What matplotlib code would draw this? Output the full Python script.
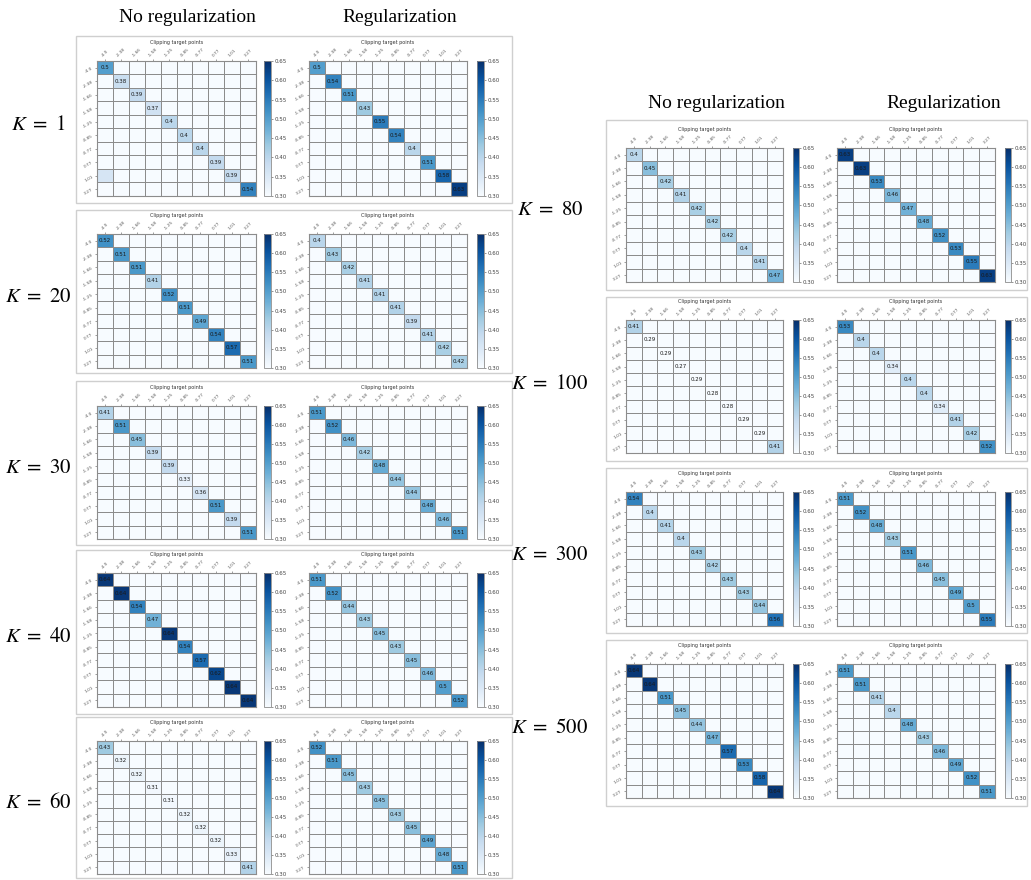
import numpy as np
import matplotlib
matplotlib.use("Agg")
import matplotlib.pyplot as plt
from matplotlib.patches import Rectangle

plt.rcParams['font.family'] = ['DejaVu Sans']
plt.rcParams['mathtext.fontset'] = 'stix'

# clipping target points (tick labels)
points = ["-4.0", "-2.38", "-1.66", "-1.58", "-1.25", "-0.85", "-0.77", "0.77", "1.01", "3.27"]

# diagonal values, no regularization / regularization
k1_noreg = [0.5, 0.38, 0.39, 0.37, 0.4, 0.4, 0.4, 0.39, 0.39, 0.54]
k1_reg = [0.5, 0.54, 0.51, 0.43, 0.55, 0.54, 0.4, 0.51, 0.58, 0.63]
k20_noreg = [0.52, 0.51, 0.51, 0.41, 0.52, 0.51, 0.49, 0.54, 0.57, 0.51]
k20_reg = [0.4, 0.43, 0.42, 0.41, 0.41, 0.41, 0.39, 0.41, 0.42, 0.42]
k30_noreg = [0.41, 0.51, 0.45, 0.39, 0.39, 0.33, 0.36, 0.51, 0.39, 0.51]
k30_reg = [0.51, 0.52, 0.46, 0.42, 0.48, 0.44, 0.44, 0.48, 0.46, 0.51]
k40_noreg = [0.64, 0.64, 0.54, 0.47, 0.64, 0.54, 0.57, 0.62, 0.64, 0.64]
k40_reg = [0.51, 0.52, 0.44, 0.43, 0.45, 0.43, 0.45, 0.46, 0.5, 0.52]
k60_noreg = [0.43, 0.32, 0.32, 0.31, 0.31, 0.32, 0.32, 0.32, 0.33, 0.41]
k60_reg = [0.52, 0.51, 0.45, 0.43, 0.45, 0.43, 0.45, 0.49, 0.48, 0.51]
k80_noreg = [0.4, 0.45, 0.42, 0.41, 0.42, 0.42, 0.42, 0.4, 0.41, 0.47]
k80_reg = [0.63, 0.63, 0.53, 0.46, 0.47, 0.48, 0.52, 0.53, 0.55, 0.63]
k100_noreg = [0.41, 0.29, 0.29, 0.27, 0.29, 0.28, 0.28, 0.29, 0.29, 0.41]
k100_reg = [0.53, 0.4, 0.4, 0.34, 0.4, 0.4, 0.34, 0.41, 0.42, 0.52]
k300_noreg = [0.54, 0.4, 0.41, 0.4, 0.43, 0.42, 0.43, 0.43, 0.44, 0.56]
k300_reg = [0.51, 0.52, 0.48, 0.43, 0.51, 0.46, 0.45, 0.49, 0.5, 0.55]
k500_noreg = [0.64, 0.64, 0.51, 0.45, 0.44, 0.47, 0.57, 0.53, 0.58, 0.64]
k500_reg = [0.51, 0.51, 0.41, 0.4, 0.48, 0.43, 0.46, 0.49, 0.52, 0.51]

# the one shaded off-diagonal cell (row, col, value) in K=1, no regularization
k1_noreg_extra = [(8, 0, 0.36)]

k_labels = [1, 20, 30, 40, 60, 80, 100, 300, 500]
panel_data = [
    (k1_noreg, k1_reg), (k20_noreg, k20_reg), (k30_noreg, k30_reg),
    (k40_noreg, k40_reg), (k60_noreg, k60_reg), (k80_noreg, k80_reg),
    (k100_noreg, k100_reg), (k300_noreg, k300_reg), (k500_noreg, k500_reg),
]
extras = {(0, 0): k1_noreg_extra}

W, H = 1031, 880
fig = plt.figure(figsize=(W / 100, H / 100), dpi=100)


def px_axes(x0, y0, x1, y1):
    return fig.add_axes([x0 / W, 1 - y1 / H, (x1 - x0) / W, (y1 - y0) / H])


def px_box(x0, y0, x1, y1):
    fig.patches.append(Rectangle((x0 / W, 1 - y1 / H), (x1 - x0) / W, (y1 - y0) / H,
                                 transform=fig.transFigure, fill=False,
                                 edgecolor='#cfcfcf', linewidth=1.0))


def draw_heatmap(ax, cax, diag, extra=()):
    n = len(diag)
    mat = np.zeros((n, n))
    mat[np.arange(n), np.arange(n)] = diag
    for r, c, v in extra:
        mat[r, c] = v
    mesh = ax.pcolormesh(mat, cmap='Blues', vmin=0.3, vmax=0.65,
                         edgecolors='#8c8c8c', linewidth=0.6)
    ax.set_xlim(0, n)
    ax.set_ylim(n, 0)
    for i, v in enumerate(diag):
        ax.text(i + 0.5, i + 0.5, f"{v:g}", ha='center', va='center',
                fontsize=4, color='#1a1a1a')
    ax.xaxis.tick_top()
    ax.set_xticks(np.arange(n) + 0.5)
    ax.set_xticklabels(points, rotation=45, fontsize=3.1, color='#333333')
    ax.set_yticks(np.arange(n) + 0.5)
    ax.set_yticklabels(points, rotation=30, fontsize=3.1, color='#333333')
    ax.tick_params(length=1.5, width=0.4, pad=0.8, colors='#555555')
    # title placed by hand, just above the rotated tick labels
    ax.text(0.5, 1.14, "Clipping target points", transform=ax.transAxes,
            ha='center', va='center', fontsize=3.5, color='#333333')
    for s in ax.spines.values():
        s.set_edgecolor('#8c8c8c')
        s.set_linewidth(0.8)
    cb = fig.colorbar(mesh, cax=cax)
    ticks = np.arange(0.30, 0.651, 0.05)
    cb.set_ticks(ticks)
    cb.ax.set_yticklabels([f"{t:.2f}" for t in ticks])
    cb.ax.tick_params(labelsize=4.0, length=1.5, width=0.4, pad=1, colors='#444444')
    cb.outline.set_edgecolor('#8c8c8c')
    cb.outline.set_linewidth(0.6)


# layout in pixels: box and heatmap rows per panel, column x positions
left_x = dict(box=(76, 512), h1=(97, 256), c1=(264, 271), h2=(309, 467), c2=(477, 484))
right_x = dict(box=(606, 1027), h1=(626, 783), c1=(793, 799), h2=(837, 995), c2=(1005, 1011))
left_rows = [(36, 203, 61, 196), (210, 373, 234, 368), (381, 545, 406, 539),
             (550, 714, 573, 707), (717, 878, 741, 874)]
right_rows = [(120, 290, 148, 282), (297, 461, 320, 453), (468, 633, 492, 626),
              (640, 806, 664, 798)]

layouts = [(left_x, r, 38) for r in left_rows] + [(right_x, r, 550) for r in right_rows]

for idx, ((xs, (by0, by1, hy0, hy1), kx), k, (nr, rg)) in enumerate(zip(layouts, k_labels, panel_data)):
    px_box(xs['box'][0], by0, xs['box'][1], by1)
    ax1 = px_axes(xs['h1'][0], hy0, xs['h1'][1], hy1)
    cax1 = px_axes(xs['c1'][0], hy0, xs['c1'][1], hy1)
    draw_heatmap(ax1, cax1, nr, extras.get((idx, 0), ()))
    ax2 = px_axes(xs['h2'][0], hy0, xs['h2'][1], hy1)
    cax2 = px_axes(xs['c2'][0], hy0, xs['c2'][1], hy1)
    draw_heatmap(ax2, cax2, rg, extras.get((idx, 1), ()))
    fig.text(kx / W, 1 - ((by0 + by1) / 2 + 4) / H, rf"$K\ =\ {k}$",
             ha='center', va='center', fontsize=15)

# column headers
header_font = dict(family='Liberation Serif', fontsize=14, ha='center', va='center')
fig.text(187 / W, 1 - 17 / H, "No regularization", **header_font)
fig.text(400 / W, 1 - 17 / H, "Regularization", **header_font)
fig.text(716 / W, 1 - 104 / H, "No regularization", **header_font)
fig.text(944 / W, 1 - 104 / H, "Regularization", **header_font)

fig.savefig("out.png", dpi=100)
